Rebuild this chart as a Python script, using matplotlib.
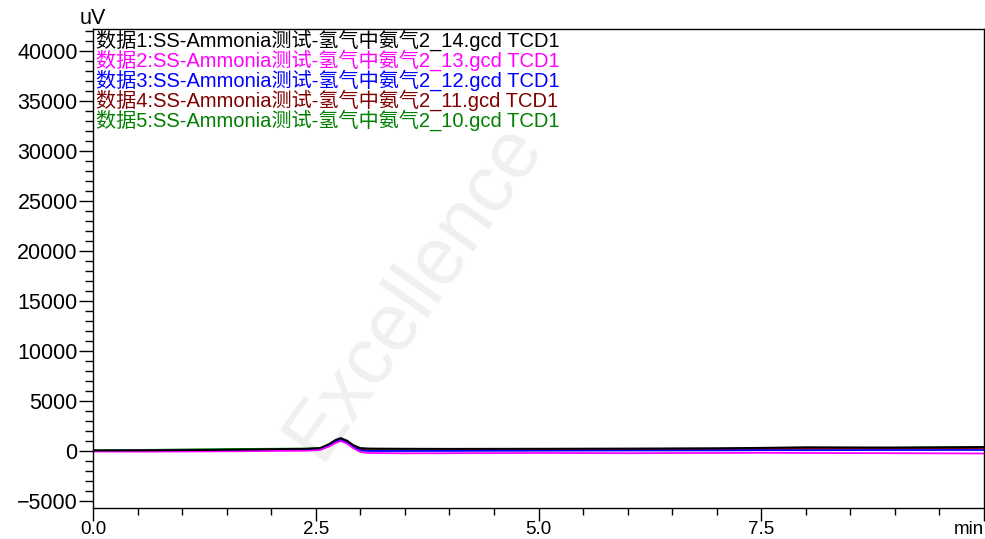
import matplotlib
matplotlib.use("Agg")
import matplotlib.pyplot as plt
from matplotlib.ticker import MultipleLocator, FixedLocator, FixedFormatter

t = [0.0, 0.5, 1.0, 1.5, 2.0, 2.4, 2.55, 2.65, 2.72, 2.78, 2.85, 2.92, 3.0,
     3.1, 3.5, 4.0, 5.0, 6.0, 7.0, 7.5, 8.0, 9.0, 10.0]

s1 = [50, 60, 80, 120, 180, 220, 300, 700, 1100, 1300, 1050, 600, 300,
      250, 230, 220, 230, 250, 280, 320, 380, 350, 400]
s2 = [-50, -60, -50, -30, 0, 30, 100, 450, 800, 1000, 750, 300, -100,
      -200, -230, -220, -200, -220, -200, -180, -200, -220, -250]
s3 = [30, 30, 40, 60, 100, 120, 200, 550, 900, 1100, 850, 400, 50,
      0, 0, 10, 30, 50, 60, 80, 80, 100, 100]
s4 = [20, 30, 50, 80, 120, 150, 220, 580, 950, 1150, 900, 450, 120,
      80, 80, 90, 120, 150, 170, 200, 230, 250, 300]
s5 = [80, 100, 150, 200, 220, 250, 300, 620, 980, 1150, 900, 480, 150,
      120, 130, 150, 180, 200, 230, 250, 280, 330, 400]

series = [s5, s4, s3, s2, s1]
colors = ["#008000", "#800000", "#0000ff", "#ff00ff", "#000000"]
labels = [
    "数据1:SS-Ammonia测试-氢气中氨气2_14.gcd TCD1",
    "数据2:SS-Ammonia测试-氢气中氨气2_13.gcd TCD1",
    "数据3:SS-Ammonia测试-氢气中氨气2_12.gcd TCD1",
    "数据4:SS-Ammonia测试-氢气中氨气2_11.gcd TCD1",
    "数据5:SS-Ammonia测试-氢气中氨气2_10.gcd TCD1",
]
label_colors = ["#000000", "#ff00ff", "#0000ff", "#800000", "#008000"]

xticks = [0.0, 2.5, 5.0, 7.5, 10.0]
xticklabels = ["0.0", "2.5", "5.0", "7.5", "min"]
yticks = [-5000, 0, 5000, 10000, 15000, 20000, 25000, 30000, 35000, 40000]

fam = ["Liberation Sans", "Noto Sans CJK SC"]
plt.rcParams["font.family"] = fam

fig = plt.figure(figsize=(9.85, 5.39), dpi=100)
ax = fig.add_axes([93 / 985, 1 - 508 / 539, (984 - 93) / 985, (508 - 29) / 539])

# marca de agua
fig.text(0.42, 0.46, "Excellence", rotation=55, fontsize=58, color="#f0f0f0",
         ha="center", va="center", zorder=-1, family=fam)

for s, c in zip(series, colors):
    ax.plot(t, s, color=c, lw=1.3)

ax.set_xlim(0, 10)
ax.set_ylim(-5700, 42200)
ax.xaxis.set_major_locator(FixedLocator(xticks))
ax.xaxis.set_major_formatter(FixedFormatter(xticklabels))
ax.xaxis.set_minor_locator(MultipleLocator(0.5))
ax.yaxis.set_major_locator(FixedLocator(yticks))
ax.yaxis.set_minor_locator(MultipleLocator(1000))
ax.tick_params(which="major", length=10, width=1, labelsize=15.5, pad=1)
ax.tick_params(which="minor", length=6, width=1)
ax.tick_params(axis="x", which="major", length=9, labelsize=13.5, pad=0)
ax.tick_params(axis="x", which="minor", length=5)
ax.get_xticklabels()[-1].set_ha("right")
for sp in ax.spines.values():
    sp.set_linewidth(1)
ax.patch.set_alpha(0)

for i, (lab, c) in enumerate(zip(labels, label_colors)):
    ax.text(0.003, 1.0 - i * 20 / 479, lab, transform=ax.transAxes, color=c,
            fontsize=14.5, va="top", ha="left", family=fam)

fig.text(80 / 985, 1 - 19 / 539, "uV", fontsize=15.5, ha="left", va="center")

fig.savefig("out.png", dpi=100)
